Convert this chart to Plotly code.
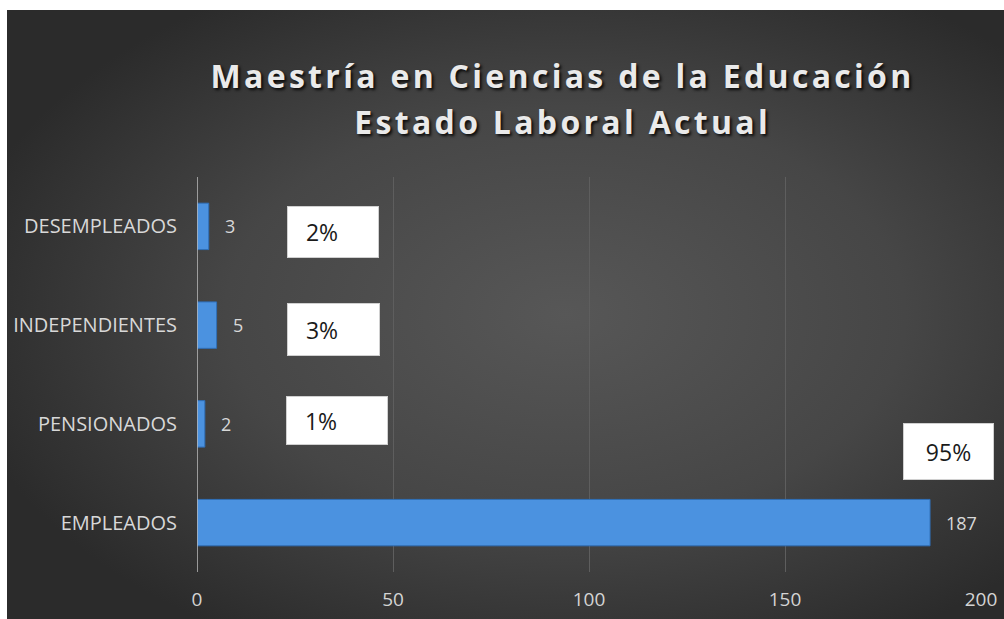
import base64
import plotly.graph_objects as go

# ---- data (bottom to top, as in the source chart) ----
categories = ["EMPLEADOS", "PENSIONADOS", "INDEPENDIENTES", "DESEMPLEADOS"]
values = [187, 2, 5, 3]
percent_labels = ["95%", "1%", "3%", "2%"]
x_ticks = [0, 50, 100, 150, 200]
title_line1 = "Maestría en Ciencias de la Educación"
title_line2 = "Estado Laboral Actual"

W, H = 1004, 619
L, R, T, B = 197, 23, 177, 47
pw, ph = W - L - R, H - T - B

# radial gradient background as an SVG image
svg = f'''<svg xmlns="http://www.w3.org/2000/svg" width="{W}" height="{H}" viewBox="0 0 {W} {H}" preserveAspectRatio="none">
<defs><radialGradient id="g" cx="56%" cy="50%" r="62%" fx="56%" fy="50%">
<stop offset="0%" stop-color="#575757"/><stop offset="55%" stop-color="#464646"/><stop offset="100%" stop-color="#2b2b2b"/>
</radialGradient></defs><rect width="{W}" height="{H}" fill="url(#g)"/></svg>'''
bg_src = "data:image/svg+xml;base64," + base64.b64encode(svg.encode()).decode()


def px_to_paper_x(px):
    return (px - L) / pw


def px_to_paper_y(py):
    return (H - B - py) / ph


fig = go.Figure()
fig.add_trace(go.Bar(
    y=categories, x=values, orientation="h",
    marker=dict(color="#4b92e0", line=dict(color="#2f6fb8", width=1)),
    width=0.47, hoverinfo="x+y",
))

annotations = []
# value labels right of bars
for c, v in zip(categories, values):
    annotations.append(dict(
        x=v, y=c, xref="x", yref="y", text=str(v), showarrow=False,
        xanchor="left", yanchor="middle", xshift=14,
        font=dict(family="Open Sans", size=18, color="#d8d8d8"),
    ))

# white percentage boxes (x center in data units, y offset in px, width, height, align)
box_layout = {
    "DESEMPLEADOS": (34.8, -6, 92, 52, "left"),
    "INDEPENDIENTES": (34.7, -4, 93, 53, "left"),
    "PENSIONADOS": (35.6, 3, 102, 49, "left"),
    "EMPLEADOS": (191.8, 71, 91, 57, "center"),
}
for c, p in zip(categories, percent_labels):
    bx, dy, bw, bh, al = box_layout[c]
    txt = ("&nbsp;&nbsp;&nbsp;" + p) if al == "left" else p
    annotations.append(dict(
        x=bx, y=c, xref="x", yref="y", text=txt, showarrow=False,
        xanchor="center", yanchor="middle", yshift=dy,
        width=bw - 2, height=bh - 2, align=al, valign="middle",
        bgcolor="white", bordercolor="#d0d0d0", borderwidth=1, borderpad=0,
        font=dict(family="Open Sans", size=23, color="#1a1a1a"),
    ))

# title lines
title_font = dict(family="Open Sans", size=32, color="#eaeaea", weight="bold",
                  shadow="2px 2px 3px rgba(0,0,0,0.85)")
annotations.append(dict(x=px_to_paper_x(562), y=px_to_paper_y(76), xref="paper", yref="paper",
                        text=title_line1, showarrow=False, xanchor="center", yanchor="middle",
                        font=title_font))
annotations.append(dict(x=px_to_paper_x(562), y=px_to_paper_y(122), xref="paper", yref="paper",
                        text=title_line2, showarrow=False, xanchor="center", yanchor="middle",
                        font=title_font))

fig.update_layout(
    width=W, height=H,
    margin=dict(l=L, r=R, t=T, b=B, pad=0, autoexpand=False),
    paper_bgcolor="white",
    plot_bgcolor="rgba(0,0,0,0)",
    showlegend=False,
    annotations=annotations,
    images=[dict(
        source=bg_src, xref="paper", yref="paper",
        x=px_to_paper_x(7), y=px_to_paper_y(10),
        sizex=(W - 7) / pw, sizey=(H - 10) / ph,
        xanchor="left", yanchor="top", sizing="stretch", layer="below",
    )],
    xaxis=dict(
        range=[0, 200], tickvals=x_ticks, ticktext=[str(t) for t in x_ticks],
        showgrid=True, gridcolor="#5e5e5e", gridwidth=1,
        zeroline=False, showline=False, ticks="",
        ticklabelstandoff=14, automargin=False,
        tickfont=dict(family="Open Sans", size=19, color="#d4d4d4"),
        fixedrange=True,
    ),
    yaxis=dict(
        categoryorder="array", categoryarray=categories,
        range=[-0.5, 3.5],
        showgrid=False, zeroline=False, showline=False, ticks="",
        ticklabelstandoff=19, automargin=False,
        tickfont=dict(family="Open Sans", size=20, color="#d8d8d8"),
        fixedrange=True,
    ),
    shapes=[dict(type="line", xref="x", yref="paper", x0=0, x1=0, y0=0, y1=1,
                 line=dict(color="#bdbdbd", width=1.5), layer="above")],
)

post_script = """
document.body.style.margin = '0';
document.body.style.overflow = 'hidden';
document.querySelectorAll('text.annotation-text').forEach(function (t) {
  var s = t.textContent;
  if (s.indexOf('Maestr') === 0 || s.indexOf('Estado') === 0) {
    t.style.letterSpacing = '3.3px';
  }
});
"""

fig.write_html("out.html", post_script=post_script,
               config={"displayModeBar": False, "staticPlot": False})
